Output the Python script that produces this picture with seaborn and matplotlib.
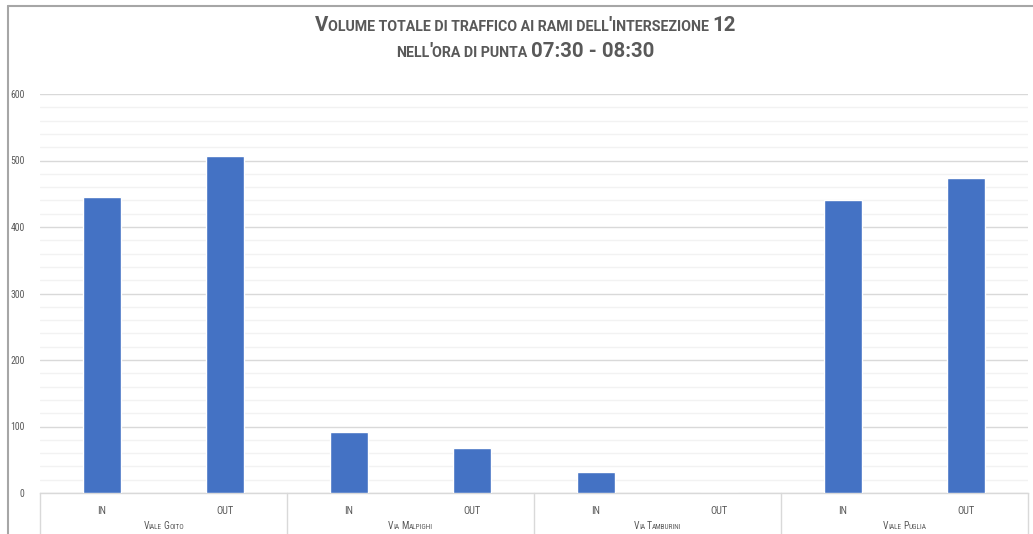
import matplotlib
matplotlib.use("Agg")
import matplotlib.pyplot as plt
import seaborn as sns
import pandas as pd
import numpy as np
from matplotlib import font_manager as fm
from matplotlib.transforms import blended_transform_factory

# ---- data ----
groups = ["Viale Goito", "Via Malpighi", "Via Tamburini", "Viale Puglia"]
directions = ["IN", "OUT"]
values_in = [445, 92, 32, 440]
values_out = [507, 67, 0, 474]
title_line1 = "Volume totale di traffico ai rami dell'intersezione 12"
title_line2 = "nell'ora di punta 07:30 - 08:30"
y_ticks = [0, 100, 200, 300, 400, 500, 600]

sns.set_theme(style="white")
flist = fm.fontManager.ttflist
names = {f.name for f in flist}
FAM = "DejaVu Sans"
for cand in ["Liberation Sans Narrow", "Roboto Condensed", "PT Sans Narrow",
             "Barlow Semi Condensed"]:
    if cand in names:
        FAM = cand
        break
TFAM = FAM
for cand in ["Liberation Sans Narrow", "Roboto", "Barlow Semi Condensed"]:
    if any(f.name == cand and f.weight in (700, "bold") and "[" not in f.fname for f in flist):
        TFAM = cand
        break
plt.rcParams["font.family"] = [FAM, "DejaVu Sans"]

rows = []
for g, vi, vo in zip(groups, values_in, values_out):
    rows.append({"key": f"{g}|IN", "group": g, "dir": "IN", "value": vi})
    rows.append({"key": f"{g}|OUT", "group": g, "dir": "OUT", "value": vo})
df = pd.DataFrame(rows)

W, H = 1033, 534
fig = plt.figure(figsize=(W / 100, H / 100), dpi=100)
ax = fig.add_axes([40 / W, (H - 493) / H, 988 / W, 399 / H])

sns.barplot(data=df, x="key", y="value", order=list(df["key"]), color="#4472C4",
            width=0.31, saturation=1, ax=ax, zorder=3)

ax.set_xlim(-0.5, len(df) - 0.5)
ax.set_ylim(0, 600)
ax.set_yticks(y_ticks)
ax.set_yticks(np.arange(0, 601, 20), minor=True)
ax.grid(axis="y", which="major", color="#D9D9D9", lw=1.0, zorder=0)
ax.grid(axis="y", which="minor", color="#F2F2F2", lw=1.0, zorder=0)
ax.grid(axis="x", visible=False)
ax.set_xlabel("")
ax.set_ylabel("")
for s in ["top", "right", "left"]:
    ax.spines[s].set_visible(False)
ax.spines["bottom"].set_color("#D9D9D9")
ax.spines["bottom"].set_linewidth(1.0)
ax.tick_params(axis="y", which="both", length=0, pad=11, labelsize=7, labelcolor="#595959")
ax.tick_params(axis="x", length=0, pad=9, labelsize=7.5, labelcolor="#595959")
ax.set_xticks(range(len(df)))
ax.set_xticklabels(df["dir"])

# group separators
trans = blended_transform_factory(ax.transData, ax.transAxes)
ng = len(groups)
nd = len(directions)
for i in range(ng + 1):
    xb = i * nd - 0.5
    ax.plot([xb, xb], [0, -0.12], transform=trans, color="#D9D9D9", lw=1.0, clip_on=False)


def adv_width(s, size, weight, fam):
    path = fm.findfont(fm.FontProperties(family=fam, weight=weight))
    font = fm.get_font(path)
    font.set_size(size, 100)
    w = 0.0
    for ch in s:
        g = font.load_char(ord(ch))
        w += g.linearHoriAdvance / 65536.0
    return w


def sc_runs(s, big, small):
    runs = []
    for ch in s:
        if ch == " ":
            sz = runs[-1][1] if runs else small
            c = ch
        elif ch.islower():
            sz, c = small, ch.upper()
        else:
            sz, c = big, ch
        if runs and runs[-1][1] == sz:
            runs[-1][0] += c
        else:
            runs.append([c, sz])
    return runs


def sc_width(s, big, small, weight, fam):
    return sum(adv_width(t, sz, weight, fam) for t, sz in sc_runs(s, big, small))


def smallcaps(s, xc, y, big, small, weight="normal", fam=None, color="#595959"):
    fam = fam or FAM
    pieces = [(t, sz, adv_width(t, sz, weight, fam)) for t, sz in sc_runs(s, big, small)]
    total = sum(p[2] for p in pieces)
    x = xc - total / 2
    for t, sz, w in pieces:
        core = t.rstrip(" ")
        if core:
            fig.text(x / W, 1 - y / H, core, fontsize=sz, fontweight=weight,
                     family=[fam, "DejaVu Sans"], color=color, ha="left", va="baseline")
        x += w


# title: fit first line to the reference width (~420 px)
big0, small0 = 12.0, 8.3
scale = 420.0 / sc_width(title_line1, big0, small0, "bold", TFAM)
scale = min(max(scale, 0.85), 1.3)
smallcaps(title_line1, 525, 31, big0 * scale, small0 * scale, weight="bold", fam=TFAM)
smallcaps(title_line2, 525, 57, big0 * scale, small0 * scale, weight="bold", fam=TFAM)

# group labels
for i, g in enumerate(groups):
    xc_data = i * nd + (nd - 1) / 2
    xpix = ax.transData.transform((xc_data, 0))[0]
    smallcaps(g, xpix, 529, 7, 5.2, weight="normal")

# outer chart border
fig.add_artist(plt.Line2D([8 / W, 8 / W], [0, 1 - 6 / H], color="#A6A6A6", lw=1.5))
fig.add_artist(plt.Line2D([8 / W, 1], [1 - 6 / H, 1 - 6 / H], color="#A6A6A6", lw=1.5))

fig.savefig("out.png", dpi=100)
